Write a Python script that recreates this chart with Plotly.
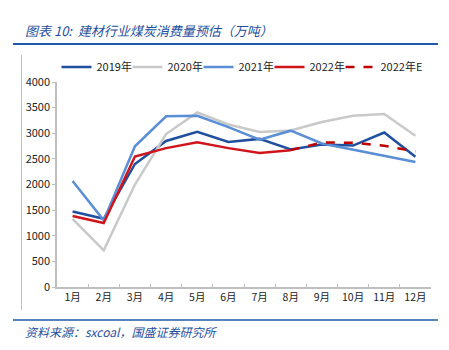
import plotly.graph_objects as go

months = ["1月", "2月", "3月", "4月", "5月", "6月", "7月", "8月", "9月", "10月", "11月", "12月"]
y2019 = [1475, 1330, 2400, 2850, 3030, 2830, 2890, 2685, 2780, 2760, 3015, 2540]
y2020 = [1330, 715, 2000, 2985, 3405, 3170, 3025, 3055, 3220, 3340, 3375, 2950]
y2021 = [2070, 1300, 2745, 3330, 3340, 3120, 2875, 3050, 2800, 2680, 2550, 2440]
y2022 = [1385, 1250, 2545, 2710, 2825, 2710, 2615, 2670, None, None, None, None]
y2022e = [None, None, None, None, None, None, None, 2670, 2820, 2815, 2755, 2645]

W, H = 449, 350
L, R, T, B = 57, 18, 82, 63
pw, ph = W - L - R, H - T - B


def px(x):
    return (x - L) / pw


def py(y):
    return (H - B - y) / ph


fig = go.Figure()
fig.add_trace(go.Scatter(x=months, y=y2019, name="2019年", mode="lines",
                         line=dict(color="#1f4f9e", width=2.5)))
fig.add_trace(go.Scatter(x=months, y=y2020, name="2020年", mode="lines",
                         line=dict(color="#c9c9c9", width=2.5)))
fig.add_trace(go.Scatter(x=months, y=y2021, name="2021年", mode="lines",
                         line=dict(color="#5a8fd6", width=2.5)))
fig.add_trace(go.Scatter(x=months, y=y2022, name="2022年", mode="lines",
                         line=dict(color="#d0141b", width=2.5)))
fig.add_trace(go.Scatter(x=months, y=y2022e, name="2022年E", mode="lines",
                         legendwidth=46,
                         line=dict(color="#c00000", width=2.5, dash="dash")))

fig.update_layout(
    width=W, height=H,
    margin=dict(l=L, r=R, t=T, b=B),
    paper_bgcolor="white", plot_bgcolor="white",
    font=dict(family="Noto Sans CJK SC, Noto Sans, sans-serif", size=11, color="#333333"),
    showlegend=True,
    legend=dict(orientation="h", x=px(244), xanchor="center", y=py(67), yanchor="middle",
                font=dict(size=11, color="#222222"), itemwidth=30,
                entrywidth=26, entrywidthmode="pixels", tracegroupgap=0,
                bgcolor="rgba(0,0,0,0)", borderwidth=0),
    xaxis=dict(type="category", range=[-0.5, 11.5], showline=True, linecolor="#bfbfbf",
               linewidth=1.5, ticks="inside", tickson="boundaries", ticklen=3,
               tickcolor="#bfbfbf", showgrid=False, zeroline=False, tickangle=0,
               tickfont=dict(size=10.5, color="#222222")),
    yaxis=dict(range=[0, 4000], dtick=500, showline=True, linecolor="#bfbfbf",
               linewidth=1.5, ticks="outside", ticklen=3, tickcolor="#bfbfbf",
               showgrid=False, zeroline=False, tickfont=dict(size=11, color="#222222")),
)

fig.add_annotation(x=px(23), y=py(30), xref="paper", yref="paper", xanchor="left",
                   yanchor="middle", showarrow=False,
                   text="<i>图表 10:  建材行业煤炭消费量预估（万吨）</i>",
                   font=dict(size=13, color="#1f4f9e"))
fig.add_annotation(x=px(23), y=py(331), xref="paper", yref="paper", xanchor="left",
                   yanchor="middle", showarrow=False,
                   text="<i>资料来源：sxcoal，国盛证券研究所</i>",
                   font=dict(size=12, color="#1f4f9e"))

fig.add_shape(type="line", xref="paper", yref="paper", x0=px(13), x1=px(438),
              y0=py(44), y1=py(44), line=dict(color="#1f5aaa", width=2))
fig.add_shape(type="line", xref="paper", yref="paper", x0=px(13), x1=px(438),
              y0=py(320), y1=py(320), line=dict(color="#1f5aaa", width=1.5))
fig.add_shape(type="line", xref="paper", yref="paper", x0=px(21.5), x1=px(21.5),
              y0=py(55), y1=py(310), line=dict(color="#bfbfbf", width=1))

fig.write_html("out.html")
